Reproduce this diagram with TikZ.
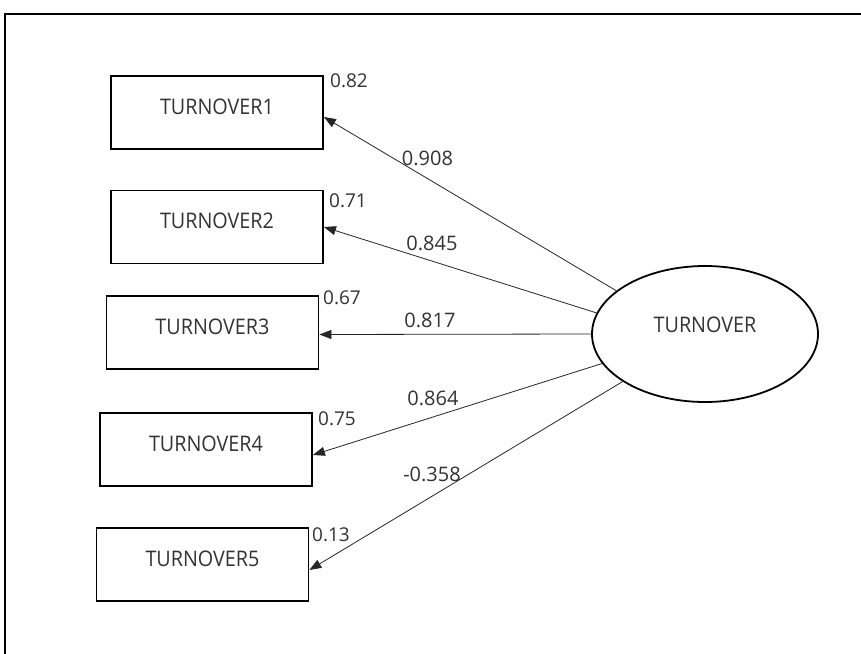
\documentclass[tikz,border=0pt]{standalone}
\usepackage{fontspec}
\setmainfont{Open Sans}
\newfontfamily\boxfont[FakeStretch=0.92]{Open Sans}
\usetikzlibrary{shapes.geometric,arrows.meta}
\begin{document}
\begin{tikzpicture}[x=1pt,y=-1pt,
  obs/.style={draw,line width=1.8pt,minimum width=212pt,minimum height=73pt,inner sep=0pt,
    font=\fontsize{21.5}{24}\selectfont\boxfont,text=black!80,text height=15.4pt,text depth=12pt},
  lat/.style={ellipse,draw,line width=1.8pt,minimum width=226pt,minimum height=136pt,inner sep=0pt,
    font=\fontsize{21.5}{24}\selectfont\boxfont,text=black!80,text height=15pt,text depth=17.6pt},
  path/.style={-{Triangle[length=12pt,width=9pt]},line width=0.8pt,black!85},
  lbl/.style={font=\fontsize{19}{22}\selectfont,text=black!80,inner sep=0pt},
  elbl/.style={font=\fontsize{20}{22}\selectfont,text=black!80,inner sep=0pt}]
\useasboundingbox (0,0) rectangle (861,653);
\fill[white] (0,0) rectangle (861,653);
\draw[line width=1.5pt] (5,660) -- (5,14) -- (870,14);
\node[obs] (t1) at (217,112.5) {TURNOVER1};
\node[obs] (t2) at (217,227) {TURNOVER2};
\node[obs] (t3) at (212.5,332.5) {TURNOVER3};
\node[obs] (t4) at (206,449.5) {TURNOVER4};
\node[obs] (t5) at (202.5,564.5) {TURNOVER5};
\node[lat] (f) at (705,334) {TURNOVER};
\node[lbl,anchor=west] (e1) at (330,81) {0.82};
\node[lbl,anchor=west] (e2) at (329,201) {0.71};
\node[lbl,anchor=west] (e3) at (323,298) {0.67};
\node[lbl,anchor=west] (e4) at (318,419) {0.75};
\node[lbl,anchor=west] (e5) at (312,535) {0.13};
\draw[path] (f.154) -- ([yshift=-4.5pt]t1.east);
\draw[path] (f.169) -- (t2.east);
\draw[path] (f.180) -- ([yshift=-2pt]t3.east);
\draw[path] (f.196) -- ([yshift=-5.5pt]t4.east);
\draw[path] (f.210.6) -- ([yshift=-5.5pt]t5.east);
\node[elbl] (l1) at (427.5,158.5) {0.908};
\node[elbl] (l2) at (432,243) {0.845};
\node[elbl] (l3) at (430,320) {0.817};
\node[elbl] (l4) at (433,398) {0.864};
\node[elbl] (l5) at (432,474) {-0.358};
\end{tikzpicture}
\end{document}
